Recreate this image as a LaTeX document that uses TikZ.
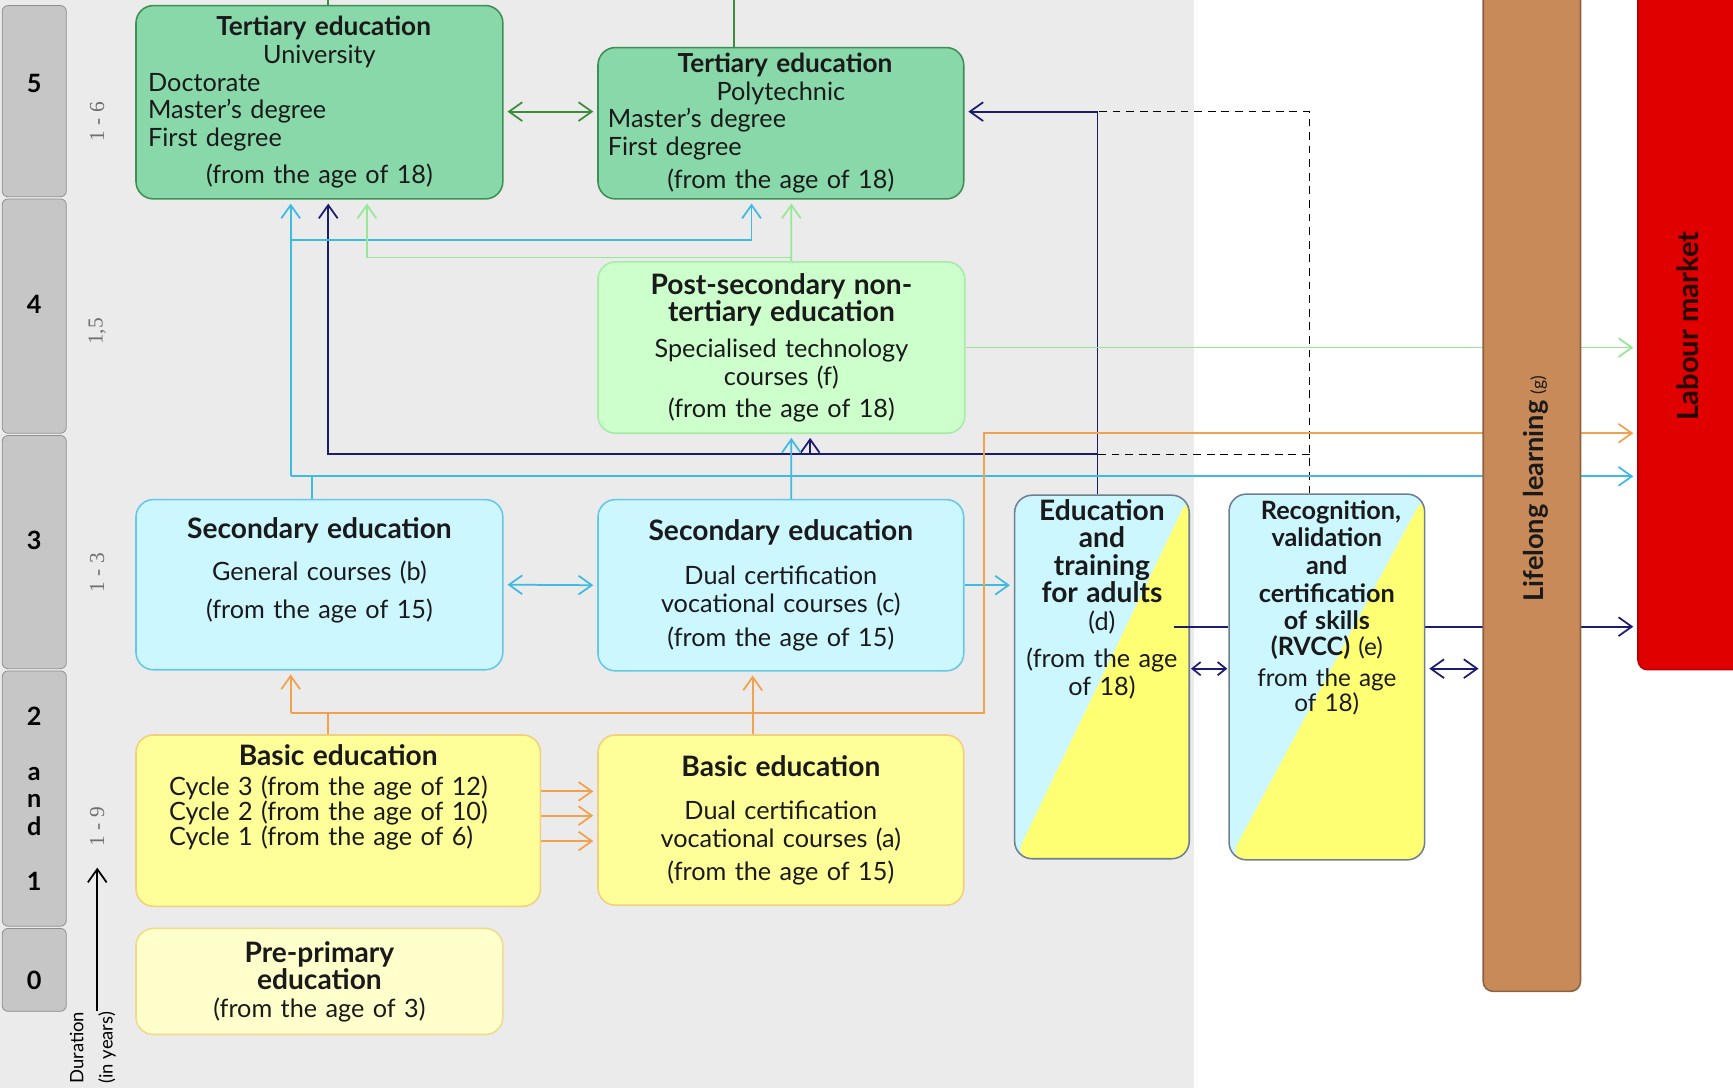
\documentclass[tikz,border=0pt]{standalone}
\usepackage{fontspec}
\setmainfont{Lato}
\newfontfamily\durfont{Liberation Serif}
\usetikzlibrary{arrows.meta, positioning, calc, backgrounds}

\definecolor{bggray}{HTML}{EBEBEB}
\definecolor{lvlfill}{HTML}{C6C6C6}
\definecolor{lvlline}{HTML}{8E8E8E}
\definecolor{tertfill}{HTML}{88D8AA}
\definecolor{tertline}{HTML}{3F8F55}
\definecolor{pstfill}{HTML}{CCFFCC}
\definecolor{pstline}{HTML}{A6EBA6}
\definecolor{secfill}{HTML}{CCF7FF}
\definecolor{secline}{HTML}{66C8E6}
\definecolor{basfill}{HTML}{FFFF99}
\definecolor{basline}{HTML}{F2CF7E}
\definecolor{prefill}{HTML}{FFFFCC}
\definecolor{preline}{HTML}{F0DA8C}
\definecolor{mixyellow}{HTML}{FFFF73}
\definecolor{mixline}{HTML}{6F7F8F}
\definecolor{lifefill}{HTML}{C78A58}
\definecolor{lifeline}{HTML}{8C6242}
\definecolor{labfill}{HTML}{E00000}
\definecolor{labline}{HTML}{B80000}
\definecolor{navyc}{HTML}{1C1C6E}
\definecolor{cyanc}{HTML}{3DBBE3}
\definecolor{greenc}{HTML}{96E896}
\definecolor{orangec}{HTML}{F0A24E}
\definecolor{dkgreen}{HTML}{3C8C3C}
\definecolor{durgray}{HTML}{707070}
\definecolor{txtdark}{HTML}{1A1A1A}

\newcommand{\ttl}[1][14.5]{\bfseries\fontsize{#1}{14.2}\selectfont}
\newcommand{\lrow}[1]{\makebox[\linewidth][l]{#1}}

\tikzset{
  box/.style    ={rectangle, rounded corners=9pt, align=center, inner sep=0pt,
                  text=txtdark, line width=0.8pt, font=\fontsize{13}{14.2}\selectfont},
  tert/.style   ={box, fill=tertfill, draw=tertline},
  pstbox/.style ={box, fill=pstfill, draw=pstline},
  secbox/.style ={box, fill=secfill, draw=secline},
  basbox/.style ={box, fill=basfill, draw=basline},
  prebox/.style ={box, fill=prefill, draw=preline},
  mixbox/.style ={box, fill=secfill, draw=mixline,
                  path picture={\fill[mixyellow] (path picture bounding box.south west)
                    -- (path picture bounding box.north east)
                    -- (path picture bounding box.south east) -- cycle;}},
  lvl/.style    ={rectangle, rounded corners=3pt, fill=lvlfill, draw=lvlline,
                  minimum width=1.16cm, align=center, font=\bfseries\fontsize{13}{14.2}\selectfont},
  dur/.style    ={rotate=90, text=durgray, font=\durfont\fontsize{11}{12}\selectfont},
  padb/.style   ={execute at end node={\par\vspace*{#1}}},
  ln/.style     ={line width=0.9pt},
  arr/.style    ={ln, -{Straight Barb[length=2.4mm, width=3.4mm]}, shorten >=2pt},
  darr/.style   ={ln, {Straight Barb[length=2.4mm, width=3.4mm]}-{Straight Barb[length=2.4mm, width=3.4mm]},
                  shorten >=2pt, shorten <=2pt},
  sdarr/.style  ={ln, {Straight Barb[length=1.5mm, width=2.4mm]}-{Straight Barb[length=1.5mm, width=2.4mm]},
                  shorten >=0.5pt, shorten <=0.5pt},
  dashln/.style ={line width=0.7pt, black, dash pattern=on 4pt off 3pt}
}

\begin{document}
\begin{tikzpicture}[x=0.02cm, y=-0.02cm]
  \useasboundingbox (0,0) rectangle (1568,984);

  % levels and durations
  \node[lvl, minimum height=3.46cm, text depth=0.66cm] (lv5) at (31,91.5) {5};
  \node[lvl, minimum height=4.24cm, text depth=0.44cm] (lv4) at (31,286) {4};
  \node[lvl, minimum height=4.22cm, text depth=0.42cm] (lv3) at (31,499.5) {3};
  \node[lvl, minimum height=4.62cm] (lv21) at (31,722.5) {2\\[14.2pt]a\\n\\d\\[14.2pt]1};
  \node[lvl, minimum height=1.5cm, text height=0.72cm] (lv0) at (31,877.5) {0};

  \node[dur] (dur5) at (88,110) {1 - 6};
  \node[dur] (dur4) at (88,300) {1,5};
  \node[dur] (dur3) at (88,518) {1 - 3};
  \node[dur] (dur21) at (88,748) {1 - 9};
  \node[rotate=90, align=center, inner sep=0pt, font=\fontsize{9.5}{15}\selectfont] (durlbl) at (84,948) {Duration\\(in years)};
  \coordinate (durtop) at (88,785);
  \draw[ln, black, -{Straight Barb[length=2.4mm, width=3.4mm]}] (durlbl.east -| durtop) -- (durtop);

  % education boxes
  \node[tert, minimum width=6.64cm, minimum height=3.5cm, text width=6.2cm] (univ) at (289,92.5)
    {{\ttl[13.5] Tertiary education}\\University\\\lrow{Doctorate}\\\lrow{Master's degree}\\\lrow{First degree}\\[5pt](from the age of 18)};
  \node[tert, minimum width=6.62cm, minimum height=2.74cm, text width=6.26cm] (poly) at (706.5,111.5)
    {{\ttl[13.5] Tertiary education}\\Polytechnic\\\lrow{Master's degree}\\\lrow{First degree}\\[3pt](from the age of 18)};
  \node[pstbox, minimum width=6.64cm, minimum height=3.1cm, text width=6.2cm] (post) at (707,314.5)
    {{\ttl Post-secondary non-\\tertiary education}\\[4.5pt]Specialised technology\\courses (f)\\[2.3pt](from the age of 18)};
  \node[secbox, minimum width=6.64cm, minimum height=3.08cm, text width=6.2cm, padb=0.52cm] (secgen) at (289,529)
    {{\ttl Secondary education}\\[7.4pt]General courses (b)\\[5pt](from the age of 15)};
  \node[secbox, minimum width=6.62cm, minimum height=3.1cm, text width=6.2cm] (secdual) at (706.5,529.5)
    {{\ttl Secondary education}\\[8.5pt]Dual certification\\vocational courses (c)\\[3.4pt](from the age of 15)};
  \node[mixbox, minimum width=3.16cm, minimum height=6.58cm, text width=3.0cm, padb=2.82cm] (adults) at (997,612.5)
    {{\ttl Education\\and\\training\\for adults}\\(d)\\[5pt](from the age\\of 18)};
  \node[mixbox, minimum width=3.54cm, minimum height=6.62cm, text width=3.4cm, padb=2.5cm,
        font=\fontsize{12.5}{13.1}\selectfont] (rvcc) at (1200.5,612.5)
    {{\ttl[13] Recognition,\\validation\\and\\certification\\of skills\\(RVCC)} (e)\\[3pt]from the age\\of 18)};
  \node[basbox, minimum width=7.32cm, minimum height=3.1cm, text width=6.12cm, padb=0.84cm,
        font=\fontsize{13}{13.1}\selectfont] (basic) at (306,742.5)
    {{\ttl Basic education}\\[2.2pt]\lrow{Cycle 3 (from the age of 12)}\\\lrow{Cycle 2 (from the age of 10)}\\\lrow{Cycle 1 (from the age of 6)}};
  \node[basbox, minimum width=6.62cm, minimum height=3.08cm, text width=6.2cm] (basicdual) at (706.5,742)
    {{\ttl Basic education}\\[8pt]Dual certification\\vocational courses (a)\\[2.8pt](from the age of 15)};
  \node[prebox, minimum width=6.64cm, minimum height=1.92cm, text width=6.2cm] (preprim) at (289,888)
    {{\ttl Pre-primary\\education}\\(from the age of 3)};

  % lifelong learning and labour market
  \node[rectangle, rounded corners=5pt, fill=lifefill, draw=lifeline, line width=0.8pt,
        minimum width=1.76cm, minimum height=18.24cm] (life) at (1386,441) {};
  \node[rotate=90, text=txtdark, font=\bfseries\fontsize{14}{16}\selectfont] (lifetxt) at (1390,442)
    {Lifelong learning {\mdseries\fontsize{9}{10}\selectfont(g)}};
  \node[rectangle, rounded corners=5pt, fill=labfill, draw=labline, line width=0.8pt,
        minimum width=1.96cm, minimum height=12.42cm] (labour) at (1531,295.5) {};
  \node[rotate=90, text=black!85!red, font=\bfseries\fontsize{15}{16}\selectfont] (labtxt) at (1527,295) {Labour market};

  \coordinate (topu) at (297,0);
  \coordinate (topp) at (664,0);
  \coordinate (nv) at (993,411);
  \coordinate (rv) at (1185,411);
  \coordinate (cyk) at (263,431);
  \coordinate (gk) at (332,233);
  \coordinate (ok) at (263,645);
  \coordinate (dstart) at (1062,567);

  \draw[ln, navyc] (dstart) -- (rvcc.west |- dstart);
  \draw[sdarr, navyc] (adults.east |- 0,605) -- (rvcc.west |- 0,605);

  \begin{pgfonlayer}{background}
    \fill[bggray] (0,0) rectangle (1080,984);
    % tertiary links
    \draw[ln, dkgreen] (topu) -- (univ.north -| topu);
    \draw[ln, dkgreen] (topp) -- (poly.north -| topp);
    \draw[darr, dkgreen] (univ.east |- 0,101) -- (poly.west |- 0,101);
    % adults and rvcc
    \draw[arr, navyc] (adults.north -| nv) |- (poly.east |- 0,101);
    \draw[arr, navyc] (nv) -| ($(univ.south)+(8,0)$);
    \draw[arr, navyc] (nv -| 733,0) -- ($(post.south)+(26,0)$);
    \draw[dashln] ($(rvcc.north)+(-15.5,0)$) |- (nv |- 0,101);
    \draw[dashln] (rv) -- (nv);
    \draw[arr, navyc] (rvcc.east |- dstart) -- (labour.west |- dstart);
    \draw[darr, navyc] (rvcc.east |- 0,605) -- (life.west |- 0,605);
    % secondary
    \draw[ln, cyanc] ($(secgen.north)+(-7,0)$) |- (cyk);
    \draw[arr, cyanc] (cyk) -- (cyk |- univ.south);
    \draw[arr, cyanc] (cyk |- 0,217) -| ($(poly.south)+(-26.5,0)$);
    \draw[arr, cyanc] (cyk) -- (labour.west |- cyk);
    \draw[arr, cyanc] ($(secdual.north)+(9.5,0)$) -- ($(post.south)+(9,0)$);
    \draw[arr, cyanc] (secdual.east) -- (adults.west |- secdual.east);
    \draw[darr, cyanc] (secgen.east) -- (secdual.west);
    % post-secondary
    \draw[arr, greenc] ($(post.north)+(9,0)$) -- ($(poly.south)+(9.5,0)$);
    \draw[arr, greenc] (gk -| 716,0) -- (gk) -- (gk |- univ.south);
    \draw[arr, greenc] (post.east) -- (labour.west |- post.east);
    % basic
    \draw[ln, orangec] ($(basic.north)+(-9,0)$) |- (ok);
    \draw[arr, orangec] (ok) -- (ok |- secgen.south);
    \draw[arr, orangec] (ok) -| (890,392) -- (labour.west |- 0,392);
    \draw[arr, orangec] ($(basicdual.north)+(-25.5,0)$) -- ($(secdual.south)+(-25.5,0)$);
    \foreach \yy in {716,738,761}
      \draw[arr, orangec] (basic.east |- 0,\yy) -- (basicdual.west |- 0,\yy);
  \end{pgfonlayer}
\end{tikzpicture}
\end{document}
